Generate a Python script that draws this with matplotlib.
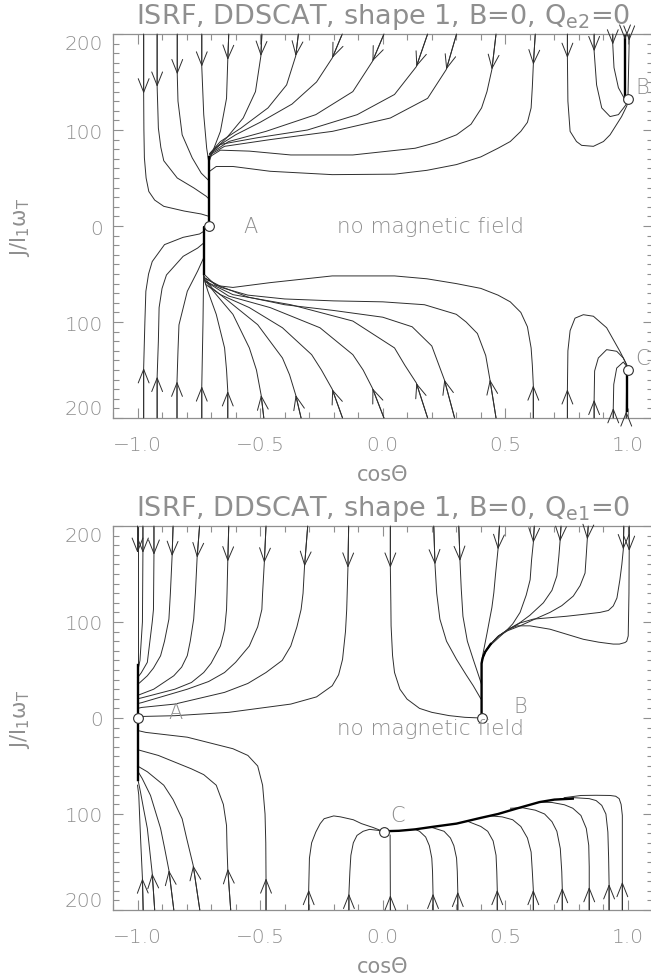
import matplotlib
matplotlib.use("Agg")
import matplotlib.pyplot as plt
from matplotlib.ticker import MultipleLocator

plt.rcParams['font.family'] = ['DejaVu Sans']
plt.rcParams['font.weight'] = 200
plt.rcParams['mathtext.default'] = 'regular'

# ---------------- panel 1 : Q_e2 = 0 ----------------
# every trajectory: (cos theta list, J list), first point is where it enters,
# the arrow head sits on the second point
p1_upper = [
    ([-0.975, -0.975, -0.974, -0.972, -0.965, -0.954, -0.93, -0.893, -0.81, -0.74, -0.708],
     [200, 138, 100, 71, 50, 36, 27, 20.5, 15.6, 12.5, 10]),
    ([-0.92, -0.92, -0.917, -0.915, -0.905, -0.893, -0.838, -0.77, -0.72, -0.708],
     [200, 145, 120, 102, 82, 68, 50, 39.6, 31, 28]),
    ([-0.838, -0.838, -0.835, -0.818, -0.777, -0.74, -0.708],
     [200, 158, 130, 95, 71, 55, 47]),
    ([-0.738, -0.738, -0.73, -0.718, -0.708],
     [200, 166, 116, 81, 64]),
    ([-0.628, -0.632, -0.637, -0.662, -0.693, -0.708],
     [200, 173, 133, 98.6, 78, 67]),
    ([-0.493, -0.497, -0.519, -0.569, -0.637, -0.693, -0.708],
     [200, 177, 140, 112.5, 91.7, 78, 71]),
    ([-0.344, -0.355, -0.392, -0.468, -0.578, -0.662, -0.704],
     [200, 177, 147, 123, 102, 88, 76]),
    ([-0.165, -0.206, -0.27, -0.37, -0.5, -0.6, -0.68, -0.706],
     [200, 175, 150, 127, 108, 95, 82, 75]),
    ([0.005, -0.042, -0.122, -0.273, -0.476, -0.628, -0.706],
     [200, 171.5, 140, 116, 98.6, 88, 75]),
    ([0.183, 0.137, 0.048, -0.104, -0.307, -0.51, -0.662, -0.706],
     [200, 166, 137, 116, 100, 92, 85, 75]),
    ([0.301, 0.259, 0.183, 0.031, -0.205, -0.459, -0.645, -0.706],
     [200, 163, 133, 112.5, 98.6, 90, 83, 74]),
    ([0.462, 0.445, 0.425, 0.403, 0.36, 0.301, 0.22, 0.132, -0.122, -0.375, -0.544, -0.662, -0.706],
     [200, 163, 140, 123, 106, 95, 87, 81, 74, 74, 78, 79, 72]),
    ([0.622, 0.614, 0.61, 0.605, 0.59, 0.563, 0.52, 0.47, 0.4, 0.301, 0.18, 0.048, -0.206, -0.459, -0.611, -0.679, -0.706],
     [200, 168, 145, 123, 108, 98.6, 88, 81, 72, 64, 58, 54, 53.5, 57, 62, 62, 57]),
    # towards B
    ([0.753, 0.753, 0.755, 0.764, 0.79, 0.811, 0.859, 0.9, 0.927, 0.974, 0.995, 1.0],
     [200, 175, 130, 98.6, 88, 84, 83, 88, 95, 114, 125, 130]),
    ([0.862, 0.862, 0.872, 0.893, 0.927, 0.961, 0.988, 1.0],
     [200, 182, 147, 123, 114, 116, 125, 130]),
    ([0.938, 0.938, 0.943, 0.961, 0.988, 1.0],
     [200, 189, 165, 144, 131.5, 130]),
    ([0.988, 0.988, 0.99], [200, 194, 130]),
    ([1.005, 1.005, 1.0], [200, 193, 135]),
]

p1_lower = [
    ([-0.975, -0.975, -0.97, -0.966, -0.955, -0.94, -0.89, -0.814, -0.747, -0.73],
     [-200, -148, -100, -68, -50, -37, -19.4, -11.8, -8.3, -5.6]),
    ([-0.92, -0.92, -0.915, -0.912, -0.9, -0.882, -0.814, -0.755, -0.73],
     [-200, -157, -120, -85, -65, -51, -31.6, -23, -17.7]),
    ([-0.839, -0.839, -0.835, -0.831, -0.797, -0.755, -0.73],
     [-200, -162, -130, -103, -68, -47, -33]),
    ([-0.738, -0.738, -0.733, -0.73], [-200, -167, -100, -40]),
    ([-0.632, -0.632, -0.637, -0.645, -0.679, -0.713, -0.73],
     [-200, -172, -150, -127, -92, -68, -54]),
    ([-0.485, -0.496, -0.515, -0.544, -0.611, -0.679, -0.722, -0.73],
     [-200, -176, -150, -127, -92, -71.5, -57.6, -52]),
    ([-0.333, -0.355, -0.38, -0.409, -0.51, -0.611, -0.696, -0.73],
     [-200, -176, -155, -137.5, -102.8, -82, -64.6, -52]),
    ([-0.164, -0.206, -0.25, -0.29, -0.409, -0.544, -0.662, -0.722, -0.73],
     [-200, -170, -150, -134, -106, -85, -71.5, -61, -52]),
    ([0.005, -0.042, -0.08, -0.122, -0.256, -0.459, -0.628, -0.72],
     [-200, -169, -150, -134, -106, -85, -73, -58]),
    ([0.183, 0.137, 0.09, 0.048, -0.122, -0.375, -0.611, -0.72],
     [-200, -163.5, -145, -127, -99, -82, -71.5, -58]),
    ([0.293, 0.251, 0.2, 0.12, 0.0, -0.2, -0.4, -0.55, -0.66, -0.72],
     [-200, -160, -125, -105, -95, -88, -82, -74, -63, -55]),
    ([0.462, 0.437, 0.42, 0.386, 0.34, 0.3, 0.17, 0.0, -0.2, -0.4, -0.55, -0.66, -0.72],
     [-200, -160, -135, -112, -100, -92, -82, -79, -78, -76, -72, -64, -55]),
    ([0.614, 0.614, 0.61, 0.605, 0.59, 0.563, 0.52, 0.47, 0.4, 0.3, 0.18, 0.048, -0.206, -0.459, -0.611, -0.68, -0.73],
     [-200, -166, -145, -127, -105, -90, -79, -72, -65, -60, -55, -52, -52, -59, -64, -62, -50]),
    # towards C
    ([0.753, 0.753, 0.755, 0.764, 0.784, 0.818, 0.859, 0.913, 0.967, 0.995, 1.0],
     [-200, -170, -130, -109, -96, -92.4, -94, -106, -130.5, -144.5, -150]),
    ([0.862, 0.862, 0.864, 0.879, 0.913, 0.954, 0.981, 1.0],
     [-200, -181, -151, -137.5, -128.8, -130.5, -137.5, -148]),
    ([0.94, 0.94, 0.942, 0.954, 0.981, 1.0],
     [-200, -189.6, -165, -148, -141.7, -148]),
    ([0.993, 0.993, 0.995], [-200, -193, -150]),
]

p1_stems = [
    ([-0.708, -0.708, -0.73, -0.73], [72, -1, -1, -50]),
    ([0.988, 0.988], [200, 130]),
    ([0.995, 0.995], [-193, -150]),
]

p1_points_x = [-0.708, 1.0, 1.0]
p1_points_y = [0, 132, -150]
p1_names = ['A', 'B', 'C']
p1_names_x = [-0.57, 1.03, 1.03]
p1_names_y = [0, 145, -137]

# ---------------- panel 2 : Q_e1 = 0 ----------------
p2_upper = [
    ([-1.0, -1.0, -1.0], [200, 172, 0]),
    ([-0.978, -0.978, -0.98, -0.99, -1.0], [200, 172, 100, 60, 48]),
    ([-0.933, -0.933, -0.935, -0.94, -0.96, -0.985, -1.0],
     [200, 170, 113, 100, 58, 47, 42]),
    ([-0.855, -0.859, -0.866, -0.872, -0.89, -0.906, -0.935, -0.96, -0.99, -1.0],
     [200, 168.6, 130, 103, 80, 64.8, 52, 44, 37, 35]),
    ([-0.747, -0.757, -0.764, -0.771, -0.785, -0.797, -0.82, -0.852, -0.934, -0.995, -1.0],
     [200, 167, 130, 103, 80, 65, 53, 44, 30, 24, 23]),
    ([-0.628, -0.632, -0.635, -0.637, -0.645, -0.662, -0.7, -0.73, -0.78, -0.848, -0.983, -1.0],
     [200, 163, 130, 113, 92, 75, 57, 47.4, 37, 30, 21, 20]),
    ([-0.476, -0.483, -0.49, -0.493, -0.51, -0.544, -0.6, -0.645, -0.71, -0.797, -0.983, -1.0],
     [200, 161.7, 130, 113, 95, 75, 58, 47.4, 38, 30, 16, 15]),
    ([-0.306, -0.319, -0.325, -0.333, -0.35, -0.375, -0.41, -0.476, -0.55, -0.645, -0.848, -0.983, -1.0],
     [200, 158, 130, 113, 95, 75, 60, 47.4, 36, 26.7, 14.5, 11, 10]),
    ([-0.139, -0.142, -0.145, -0.147, -0.152, -0.164, -0.18, -0.206, -0.27, -0.375, -0.628, -0.848, -1.0],
     [200, 156.5, 130, 113, 90, 61, 45, 33.6, 22, 14.5, 5.9, 2.4, 1.5]),
    # towards B
    ([0.031, 0.031, 0.033, 0.034, 0.04, 0.048, 0.07, 0.099, 0.15, 0.2, 0.27, 0.335, 0.4],
     [200, 156.5, 120, 96, 65, 47.4, 30, 19.7, 10, 5.9, 2.5, 0.7, 0]),
    ([0.208, 0.213, 0.22, 0.233, 0.26, 0.301, 0.34, 0.369, 0.4],
     [200, 160, 130, 103, 80, 61, 45, 33.6, 20]),
    ([0.31, 0.315, 0.32, 0.327, 0.345, 0.369, 0.39, 0.403],
     [200, 163.5, 135, 106, 80, 61, 45, 35]),
    ([0.476, 0.47, 0.46, 0.453, 0.445, 0.436, 0.425, 0.415, 0.408, 0.403],
     [200, 175.6, 150, 130.6, 115, 103, 88, 75, 66, 57]),
    ([0.618, 0.614, 0.607, 0.601, 0.585, 0.56, 0.53, 0.5, 0.47, 0.44, 0.418, 0.408, 0.403],
     [200, 182.5, 165, 144, 128, 110, 98, 90, 83, 76, 69, 63, 57]),
    ([0.727, 0.723, 0.718, 0.71, 0.69, 0.655, 0.6, 0.56, 0.51, 0.47, 0.44, 0.418, 0.408, 0.403],
     [200, 184, 168, 148, 133, 120, 107, 99.4, 92, 85, 77, 69, 63, 57]),
    ([0.838, 0.834, 0.83, 0.825, 0.805, 0.777, 0.73, 0.682, 0.62, 0.56, 0.51, 0.47, 0.44, 0.418, 0.408, 0.403],
     [200, 186, 170, 151, 138, 127, 117, 110, 103, 96, 91, 85, 77, 69, 63, 57]),
    ([0.983, 0.981, 0.975, 0.967, 0.955, 0.94, 0.92, 0.886, 0.82, 0.75, 0.614, 0.56, 0.51, 0.47, 0.44, 0.418, 0.408, 0.403],
     [200, 175.6, 160, 144, 125, 116.7, 112, 110, 108, 106, 103, 99, 92, 85, 77, 69, 63, 57]),
    ([1.005, 1.005, 1.004, 1.001, 0.995, 0.988, 0.965, 0.94, 0.88, 0.818, 0.682, 0.6, 0.547, 0.51, 0.47, 0.44, 0.418, 0.408, 0.403],
     [200, 174, 130, 85.5, 80, 78.6, 77, 77, 79, 82, 92.5, 96, 96, 92, 85, 77, 69, 63, 57]),
]

p2_lower = [
    ([-0.977, -0.98, -0.988, -0.995, -1.0], [-200, -167, -123, -80, -70]),
    ([-0.93, -0.94, -0.96, -0.975, -0.988, -1.0], [-200, -162, -115, -95, -77, -62]),
    ([-0.852, -0.872, -0.89, -0.906, -0.947, -0.981, -1.0],
     [-200, -158.6, -135, -115, -80.7, -63, -55]),
    ([-0.746, -0.773, -0.8, -0.818, -0.855, -0.893, -0.96, -1.0],
     [-200, -153.5, -125, -105, -85, -70, -56, -50]),
    ([-0.62, -0.632, -0.635, -0.637, -0.65, -0.679, -0.73, -0.78, -0.915, -1.0],
     [-200, -157, -135, -112, -90, -70, -59, -53, -39, -33]),
    ([-0.476, -0.476, -0.477, -0.48, -0.49, -0.51, -0.55, -0.611, -0.797, -0.966, -1.0],
     [-200, -167, -130, -100, -70, -50, -39, -32, -20, -15, -13]),
    # towards C
    ([-0.302, -0.302, -0.299, -0.29, -0.273, -0.255, -0.239, -0.2, -0.172, -0.12, -0.087, -0.04, 0.0],
     [-200, -179, -146, -130, -118.8, -110, -104.9, -102, -103, -106, -110, -114, -118]),
    ([-0.138, -0.138, -0.134, -0.13, -0.12, -0.105, -0.08, -0.054, -0.02, 0.0],
     [-200, -183, -160, -143, -130, -122.3, -118, -116, -117, -118]),
    ([0.031, 0.031, 0.03], [-200, -184.6, -122]),
    ([0.205, 0.205, 0.203, 0.2, 0.19, 0.175, 0.15, 0.132],
     [-200, -183, -160, -146, -133, -124, -118, -116]),
    ([0.306, 0.306, 0.304, 0.301, 0.29, 0.276, 0.25, 0.2],
     [-200, -181, -160, -146, -133, -125, -118, -114]),
    ([0.467, 0.467, 0.465, 0.462, 0.45, 0.428, 0.4, 0.35],
     [-200, -179, -160, -143, -128, -118, -113, -108]),
    ([0.614, 0.614, 0.61, 0.605, 0.59, 0.563, 0.53, 0.487, 0.44],
     [-200, -179, -160, -139.6, -125, -113, -106, -103, -102]),
    ([0.732, 0.732, 0.73, 0.724, 0.71, 0.69, 0.66, 0.622, 0.57, 0.521],
     [-200, -177, -160, -136, -118, -108, -100, -96, -93.5, -94]),
    ([0.842, 0.842, 0.842, 0.84, 0.83, 0.808, 0.775, 0.741, 0.69, 0.639],
     [-200, -176, -155, -132.6, -115, -101.5, -94, -90.4, -88, -87.6]),
    ([0.923, 0.923, 0.921, 0.918, 0.91, 0.893, 0.87, 0.842, 0.78, 0.724],
     [-200, -173, -145, -118.8, -100, -91, -86, -84, -83, -84]),
    ([0.977, 0.977, 0.977, 0.977, 0.972, 0.964, 0.95, 0.927, 0.87, 0.808, 0.74],
     [-200, -170.7, -140, -101.5, -90, -84, -81.5, -80.7, -80.5, -80.7, -83]),
]

p2_stems = [
    ([-1.0, -1.0], [55, -65]),
    ([0.403, 0.403, 0.408, 0.418, 0.44], [0, 57, 63, 69, 77]),
    ([0.0, 0.066, 0.132, 0.2, 0.301, 0.4, 0.47, 0.55, 0.639, 0.7, 0.775],
     [-118, -117.5, -116, -113.5, -110, -104, -100, -94, -87.6, -85, -84]),
]

p2_points_x = [-1.0, 0.403, 0.005]
p2_points_y = [0, 0, -119]
p2_names = ['A', 'B', 'C']
p2_names_x = [-0.873, 0.533, 0.031]
p2_names_y = [6, 12, -101]

xtick_vals = [-1.0, -0.5, 0.0, 0.5, 1.0]
xtick_text = ['\u22121.0', '\u22120.5', '0.0', '0.5', '1.0']
ytick_vals = [-200, -100, 0, 100, 200]
ytick_text = ['200', '100', '0', '100', '200']

TXT = '#8f8f8f'
LINE = '#2e2e2e'


def draw_flow(ax, curves):
    for xs, ys in curves:
        ax.plot(xs, ys, color=LINE, lw=0.7)
        ax.annotate('', xy=(xs[1], ys[1]), xytext=(xs[0], ys[0]),
                    arrowprops=dict(arrowstyle='->,head_length=0.75,head_width=0.3',
                                    color=LINE, lw=0.7, shrinkA=0, shrinkB=0,
                                    mutation_scale=13))


def setup(ax, title):
    ax.set_xlim(-1.1, 1.1)
    ax.set_ylim(-200, 200)
    ax.set_xticks(xtick_vals)
    ax.set_xticklabels(xtick_text)
    ax.set_yticks(ytick_vals)
    ax.set_yticklabels(ytick_text)
    ax.xaxis.set_minor_locator(MultipleLocator(0.1))
    ax.yaxis.set_minor_locator(MultipleLocator(10))
    ax.tick_params(which='both', direction='in', top=True, right=True,
                   colors=TXT, labelsize=14.5, width=0.8)
    ax.tick_params(which='major', length=7)
    ax.tick_params(which='minor', length=4)
    ax.tick_params(axis='x', pad=12)
    ax.tick_params(axis='y', pad=7)
    for s in ax.spines.values():
        s.set_color(TXT)
        s.set_linewidth(0.9)
    yl = ax.get_yticklabels()
    yl[0].set_va('bottom')
    yl[-1].set_va('top')
    ax.set_title(title, fontsize=19.5, color=TXT, pad=8)
    ax.set_xlabel('cos\u0398', fontsize=15, color=TXT)
    ax.xaxis.set_label_coords(0.5, -0.12)
    ax.set_ylabel(r'J/I$_1\omega_T$', fontsize=15, color=TXT)
    ax.yaxis.set_label_coords(-0.15, 0.5)


fig = plt.figure(figsize=(6.51, 9.79), dpi=100)
ax1 = fig.add_axes([113 / 651, 1 - 419 / 979, 539.5 / 651, 384 / 979])
ax2 = fig.add_axes([113 / 651, 1 - 911 / 979, 539.5 / 651, 384 / 979])

setup(ax1, 'ISRF, DDSCAT, shape 1, B=0, Q$_{e2}$=0')
setup(ax2, 'ISRF, DDSCAT, shape 1, B=0, Q$_{e1}$=0')

draw_flow(ax1, p1_upper)
draw_flow(ax1, p1_lower)
for xs, ys in p1_stems:
    ax1.plot(xs, ys, color='k', lw=1.7)
ax1.plot(p1_points_x, p1_points_y, 'o', mfc='white', mec=LINE, ms=7, mew=0.8)
for n, x, y in zip(p1_names, p1_names_x, p1_names_y):
    ax1.text(x, y, n, fontsize=15, color=TXT, va='center')
ax1.text(0.193, 0, 'no magnetic field', fontsize=15.5, color=TXT, ha='center', va='center')

draw_flow(ax2, p2_upper)
draw_flow(ax2, p2_lower)
for xs, ys in p2_stems:
    ax2.plot(xs, ys, color='k', lw=1.7)
ax2.plot(p2_points_x, p2_points_y, 'o', mfc='white', mec=LINE, ms=7, mew=0.8)
for n, x, y in zip(p2_names, p2_names_x, p2_names_y):
    ax2.text(x, y, n, fontsize=15, color=TXT, va='center')
ax2.text(0.193, -10, 'no magnetic field', fontsize=15.5, color=TXT, ha='center', va='center')

fig.savefig('out.png', dpi=100)
